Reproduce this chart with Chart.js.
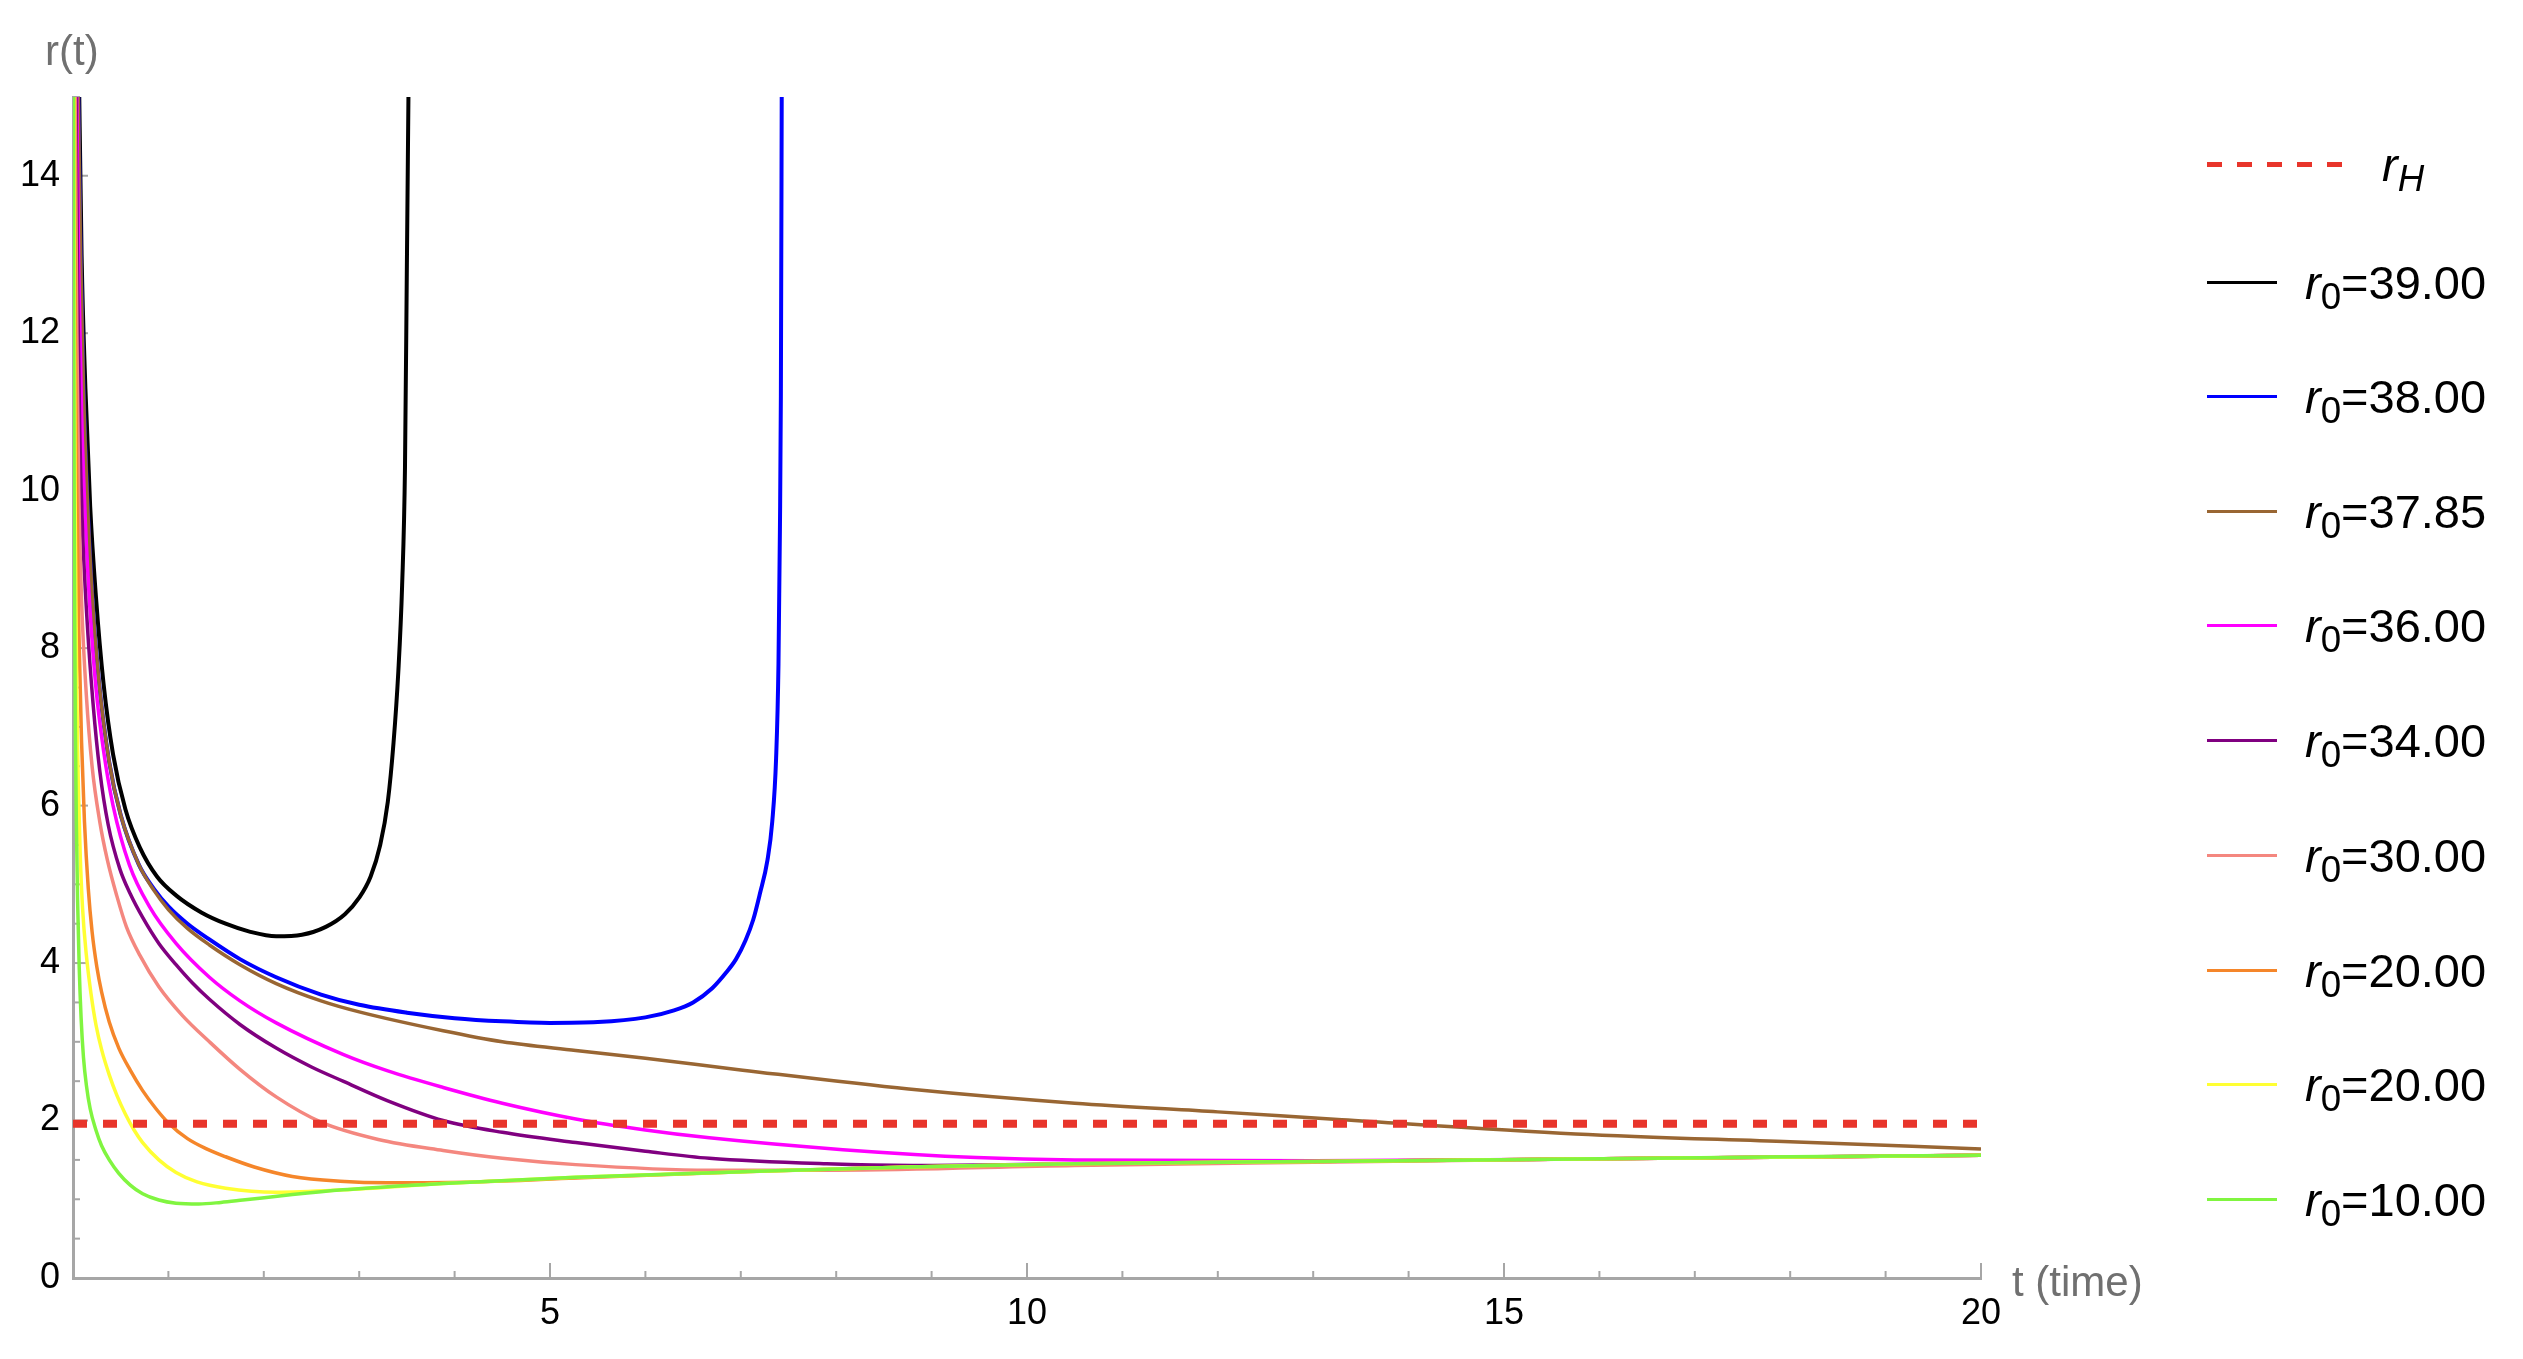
<!DOCTYPE html>
<html lang="en">
<head>
<meta charset="UTF-8">
<title>r(t) for several r0</title>
<script src="https://cdn.jsdelivr.net/npm/chart.js@4.4.1/dist/chart.umd.min.js"></script>
<style>
  body { margin: 0; background: #fff; font-family: "Liberation Sans", Arial, sans-serif; }
  #wrap { position: relative; width: 2523px; height: 1359px; }
  #legend { position: absolute; left: 2207px; top: 0; }
  .row { position: absolute; left: 0; height: 60px; display: flex; align-items: center; white-space: nowrap; font-size: 47px; line-height: 1; color: #000; }
  .swatch { width: 70px; height: 3px; margin-right: 28px; }
  .dash { width: 137px; height: 5px; margin-right: 38px; }
  .row sub { font-size: 0.78em; vertical-align: -0.28em; line-height: 0; }
</style>
</head>
<body>
<div id="wrap">
  <canvas id="chart" width="2523" height="1359"></canvas>
  <div id="legend"></div>
</div>
<script>
// horizon radius and time range
const horizonR = 1.96;
const tRange = [0, 20];

// curves as [t, r]
const r39 = [[0.06,15.5],[0.09,13],[0.13,11.3],[0.18,9.8],[0.24,8.66],[0.32,7.55],[0.42,6.65],[0.55,5.95],[0.7,5.47],[0.88,5.1],[1.08,4.86],[1.35,4.64],[1.6,4.5],[1.85,4.4],[2.13,4.34],[2.4,4.36],[2.65,4.46],[2.85,4.62],[3.0,4.83],[3.12,5.1],[3.22,5.5],[3.3,6.05],[3.36,6.8],[3.41,7.7],[3.45,8.8],[3.48,10.3],[3.5,12.9],[3.52,15.5]];
const r38 = [[0.05,15.5],[0.08,13],[0.11,11.3],[0.15,9.9],[0.2,8.7],[0.27,7.6],[0.38,6.55],[0.5,5.88],[0.69,5.25],[0.85,4.94],[1.0,4.72],[1.2,4.5],[1.43,4.3],[1.75,4.05],[2.13,3.82],[2.6,3.6],[3.0,3.47],[3.5,3.37],[4.0,3.3],[4.5,3.26],[5.0,3.24],[5.5,3.25],[6.0,3.31],[6.3,3.4],[6.5,3.5],[6.7,3.68],[6.84,3.87],[6.95,4.05],[7.05,4.29],[7.13,4.55],[7.2,4.88],[7.28,5.31],[7.33,5.8],[7.37,6.6],[7.395,7.8],[7.41,9.5],[7.42,11.2],[7.43,15.5]];
const r3785 = [[0.05,15.5],[0.08,13],[0.11,11.3],[0.15,9.9],[0.2,8.7],[0.27,7.6],[0.38,6.55],[0.5,5.88],[0.69,5.25],[0.85,4.92],[1.0,4.68],[1.2,4.44],[1.43,4.23],[1.75,3.98],[2.13,3.74],[2.6,3.52],[3.0,3.38],[3.88,3.14],[4.5,3.0],[5.27,2.89],[6.0,2.79],[7.02,2.64],[8.76,2.4],[10.5,2.22],[12,2.11],[13.3,2.01],[15.75,1.83],[18,1.73],[20,1.64]];
const r36 = [[0.035,15.5],[0.06,12.8],[0.09,11],[0.13,9.6],[0.18,8.45],[0.24,7.5],[0.32,6.7],[0.42,6.0],[0.59,5.25],[0.8,4.72],[1.08,4.25],[1.43,3.82],[1.75,3.52],[2.13,3.24],[2.83,2.84],[3.3,2.63],[3.88,2.42],[4.5,2.22],[5.27,2.02],[6,1.88],[6.67,1.78],[8.07,1.63],[9.47,1.53],[10.5,1.5],[13,1.49],[15.75,1.51],[20,1.56]];
const r34 = [[0.028,15.5],[0.05,12.5],[0.07,10.8],[0.1,9.5],[0.15,8.3],[0.21,7.3],[0.28,6.45],[0.37,5.75],[0.49,5.2],[0.6,4.88],[0.73,4.58],[0.9,4.25],[1.08,3.98],[1.25,3.75],[1.43,3.54],[1.75,3.22],[2.13,2.92],[2.5,2.68],[2.83,2.5],[3.3,2.25],[3.88,2.0],[4.5,1.85],[5.27,1.72],[6,1.61],[6.67,1.52],[7.9,1.45],[8.8,1.43],[10.5,1.45],[13,1.48],[15.75,1.51],[20,1.56]];
const r30 = [[0.02,15.5],[0.04,12],[0.06,10],[0.09,8.6],[0.14,7.4],[0.2,6.5],[0.28,5.8],[0.36,5.31],[0.46,4.85],[0.56,4.46],[0.7,4.1],[0.9,3.7],[1.15,3.33],[1.43,3.0],[1.75,2.65],[2.13,2.3],[2.6,1.98],[3.2,1.76],[3.88,1.62],[4.5,1.52],[5.27,1.44],[6.67,1.37],[8,1.37],[10.5,1.43],[13,1.47],[15.75,1.51],[20,1.56]];
const r20a = [[0.012,15.5],[0.025,12],[0.04,10],[0.06,8.3],[0.09,6.8],[0.12,5.8],[0.16,4.95],[0.2,4.4],[0.25,3.95],[0.3,3.63],[0.38,3.25],[0.48,2.92],[0.6,2.64],[0.73,2.38],[0.87,2.15],[1.0,1.97],[1.2,1.77],[1.4,1.64],[1.6,1.54],[1.9,1.41],[2.3,1.29],[2.8,1.23],[3.3,1.21],[4.22,1.22],[5.27,1.27],[7.02,1.35],[8.76,1.41],[10.5,1.45],[13,1.48],[15.75,1.51],[20,1.56]];
const r20b = [[0.008,15.5],[0.015,12],[0.022,10],[0.03,8.6],[0.04,7.4],[0.055,6.3],[0.075,5.4],[0.1,4.7],[0.14,4.1],[0.19,3.6],[0.24,3.22],[0.3,2.9],[0.38,2.58],[0.46,2.32],[0.55,2.08],[0.64,1.88],[0.73,1.72],[0.9,1.5],[1.08,1.34],[1.3,1.22],[1.6,1.14],[2.13,1.09],[2.83,1.12],[3.88,1.2],[5.27,1.28],[7.02,1.35],[8.76,1.41],[10.5,1.45],[13,1.48],[15.75,1.51],[20,1.56]];
const r10 = [[0.004,15.5],[0.008,12],[0.012,10],[0.018,8.4],[0.025,7.0],[0.035,5.8],[0.048,4.8],[0.065,3.95],[0.085,3.3],[0.11,2.8],[0.14,2.45],[0.18,2.15],[0.24,1.88],[0.3,1.68],[0.38,1.5],[0.48,1.33],[0.6,1.18],[0.73,1.07],[0.9,0.99],[1.08,0.95],[1.32,0.94],[1.55,0.96],[1.78,0.99],[2.3,1.06],[2.83,1.12],[3.88,1.2],[5.27,1.28],[7.02,1.35],[8.76,1.41],[10.5,1.45],[13,1.48],[15.75,1.51],[18,1.54],[20,1.56]];

const curves = [r39, r38, r3785, r36, r34, r30, r20a, r20b, r10];
const curveLabels = ['39.00', '38.00', '37.85', '36.00', '34.00', '30.00', '20.00', '20.00', '10.00'];
const curveColors = ['#000000', '#0000ff', '#996633', '#ff00ff', '#800080', '#f4877f', '#f5862a', '#ffff33', '#80f540'];
const horizonColor = '#e8352b';
const axisGray = '#a6a6a6';

const datasets = [{
    label: 'rH',
    data: tRange.map(t => ({ x: t, y: horizonR })),
    borderColor: horizonColor,
    borderWidth: 8,
    borderDash: [14, 16],
    pointRadius: 0,
    order: 0
}].concat(curves.map((pts, i) => ({
    label: curveLabels[i],
    data: pts.map(p => ({ x: p[0], y: p[1] })),
    borderColor: curveColors[i],
    borderWidth: i < 2 ? 4 : 3.5,
    pointRadius: 0,
    cubicInterpolationMode: 'monotone',
    order: curves.length - i
})));

// inward ticks and axis titles
const axisDecor = {
    id: 'axisDecor',
    beforeDatasetsDraw(chart) {
        const { ctx, chartArea, scales: { x, y } } = chart;
        ctx.save();
        ctx.strokeStyle = axisGray;
        ctx.lineWidth = 2;
        x.ticks.forEach(t => {
            if (t.value === 0) return;
            const px = x.getPixelForValue(t.value);
            const len = t.value % 5 === 0 ? 15 : 7;
            ctx.beginPath();
            ctx.moveTo(px, chartArea.bottom);
            ctx.lineTo(px, chartArea.bottom - len);
            ctx.stroke();
        });
        y.ticks.forEach(t => {
            if (t.value === 0) return;
            const py = y.getPixelForValue(t.value);
            const len = t.value % 2 === 0 ? 15 : 7;
            ctx.beginPath();
            ctx.moveTo(chartArea.left, py);
            ctx.lineTo(chartArea.left + len, py);
            ctx.stroke();
        });
        ctx.restore();
    },
    afterDraw(chart) {
        const { ctx, chartArea } = chart;
        ctx.save();
        ctx.fillStyle = '#707070';
        ctx.font = '42px "Liberation Sans", Arial, sans-serif';
        ctx.textBaseline = 'middle';
        ctx.textAlign = 'left';
        ctx.fillText('r(t)', chartArea.left - 28, chartArea.top - 44);
        ctx.fillText('t (time)', chartArea.right + 31, chartArea.bottom + 6);
        ctx.restore();
    }
};

const tickFont = { family: '"Liberation Sans", Arial, sans-serif', size: 36 };

new Chart(document.getElementById('chart'), {
    type: 'line',
    data: { datasets: datasets },
    options: {
        responsive: false,
        animation: false,
        devicePixelRatio: 1,
        layout: { padding: { top: 97, right: 542, left: 0, bottom: 0 } },
        plugins: { legend: { display: false }, tooltip: { enabled: false } },
        scales: {
            x: {
                type: 'linear',
                min: 0,
                max: 20,
                afterFit: s => { s.height = 81; },
                grid: { drawOnChartArea: false, drawTicks: false },
                border: { color: axisGray, width: 3 },
                ticks: {
                    stepSize: 1,
                    autoSkip: false,
                    maxRotation: 0,
                    padding: 14,
                    color: '#000',
                    font: tickFont,
                    callback: v => (v % 5 === 0 && v !== 0) ? String(v) : ''
                }
            },
            y: {
                type: 'linear',
                min: 0,
                max: 15,
                afterFit: s => { s.width = 73; },
                grid: { drawOnChartArea: false, drawTicks: false },
                border: { color: axisGray, width: 3 },
                ticks: {
                    stepSize: 0.5,
                    autoSkip: false,
                    padding: 13,
                    color: '#000',
                    font: tickFont,
                    callback: v => v % 2 === 0 ? String(v) : ''
                }
            }
        }
    },
    plugins: [axisDecor]
});

// legend built from the same series
const legend = document.getElementById('legend');
const rowY = [164, 282, 396.6, 511, 625.8, 740, 855, 970, 1084, 1199];
rowY.forEach((yc, i) => {
    const row = document.createElement('div');
    row.className = 'row';
    row.style.top = (yc - 30) + 'px';
    const sw = document.createElement('div');
    const txt = document.createElement('span');
    if (i === 0) {
        sw.className = 'dash';
        sw.style.background = 'repeating-linear-gradient(to right, ' + horizonColor + ' 0 15px, transparent 15px 30px)';
        txt.innerHTML = '<i>r</i><sub><i>H</i></sub>';
    } else {
        sw.className = 'swatch';
        sw.style.background = curveColors[i - 1];
        txt.innerHTML = '<i>r</i><sub>0</sub>=' + curveLabels[i - 1];
    }
    row.appendChild(sw);
    row.appendChild(txt);
    legend.appendChild(row);
});
</script>
</body>
</html>
